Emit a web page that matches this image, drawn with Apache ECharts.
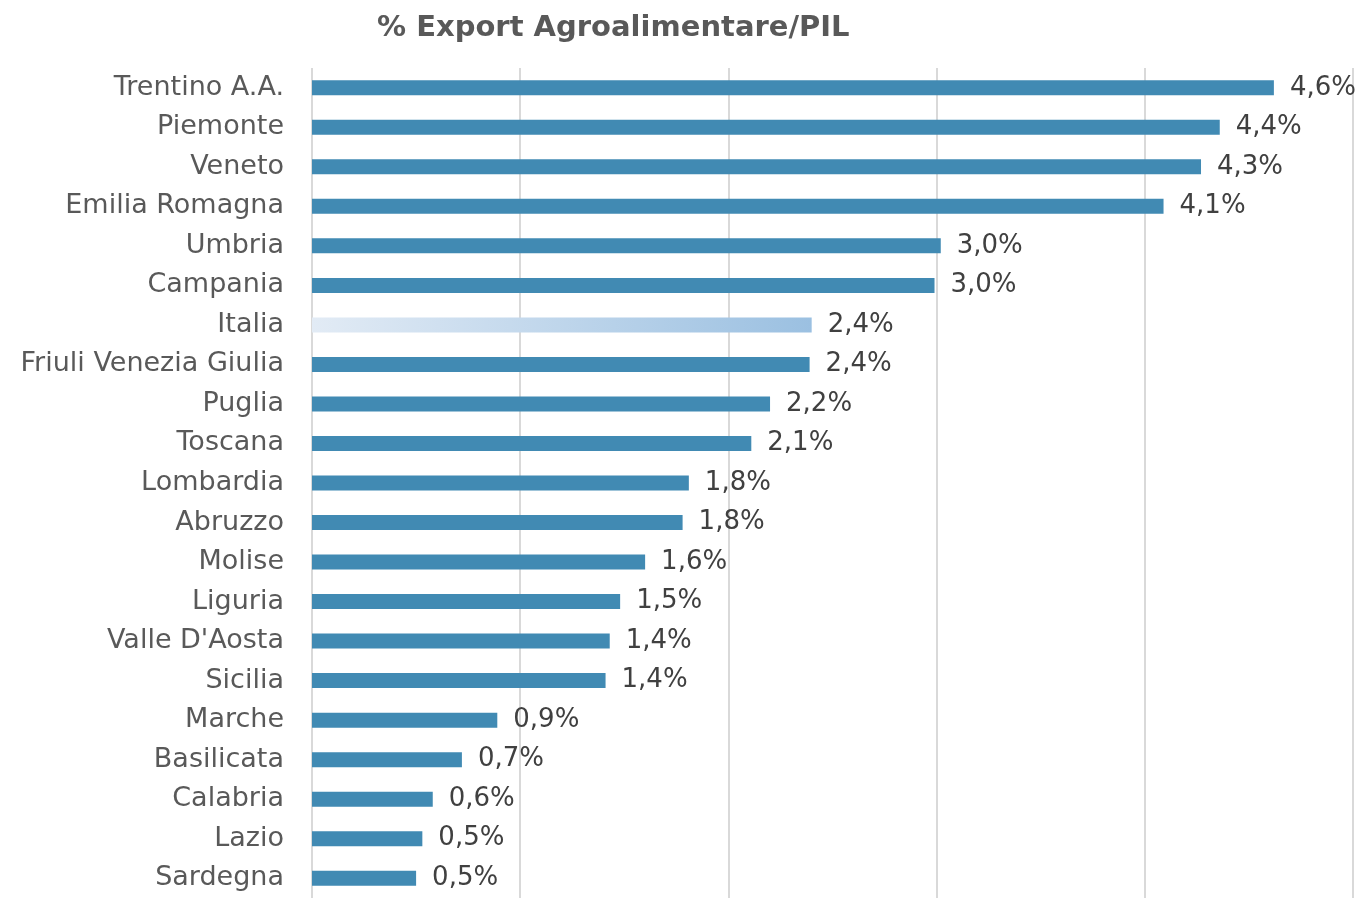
<!DOCTYPE html>
<html>
<head>
<meta charset="utf-8">
<script src="https://cdn.jsdelivr.net/npm/echarts@6/dist/echarts.min.js"></script>
<style>
  html, body { margin: 0; padding: 0; background: #fff; }
  #main { width: 1357px; height: 898px; }
</style>
</head>
<body>
<div id="main"></div>
<script>
// regioni, dall'alto verso il basso
const regioni = ['Trentino A.A.', 'Piemonte', 'Veneto', 'Emilia Romagna', 'Umbria', 'Campania',
  'Italia', 'Friuli Venezia Giulia', 'Puglia', 'Toscana', 'Lombardia', 'Abruzzo', 'Molise',
  'Liguria', "Valle D'Aosta", 'Sicilia', 'Marche', 'Basilicata', 'Calabria', 'Lazio', 'Sardegna'];
// % export agroalimentare su PIL
const valori = [4.62, 4.36, 4.27, 4.09, 3.02, 2.99, 2.40, 2.39, 2.20, 2.11, 1.81, 1.78, 1.60,
  1.48, 1.43, 1.41, 0.89, 0.72, 0.58, 0.53, 0.50];
const asseMax = 5;
const passo = 1;

const fontName = 'DejaVu Sans';

const dati = valori.map((v, i) => {
  if (regioni[i] === 'Italia') {
    return {
      value: v,
      itemStyle: {
        color: new echarts.graphic.LinearGradient(0, 0, 1, 0, [
          { offset: 0, color: '#e2ebf5' },
          { offset: 1, color: '#9bc0e1' }
        ])
      }
    };
  }
  return v;
});

var myChart = echarts.init(document.getElementById('main'));
myChart.setOption({
  animation: false,
  title: {
    text: '% Export Agroalimentare/PIL',
    left: 372,
    top: 9,
    textStyle: { fontFamily: fontName, fontSize: 29, fontWeight: 'bold', color: '#595959' }
  },
  grid: { left: 312, right: 4, top: 68, bottom: -6, containLabel: false },
  xAxis: {
    type: 'value',
    min: 0,
    max: asseMax,
    interval: passo,
    axisLabel: { show: false },
    axisLine: { show: false },
    axisTick: { show: false },
    splitLine: { show: true, lineStyle: { color: '#d9d9d9', width: 2 } }
  },
  yAxis: {
    type: 'category',
    inverse: true,
    data: regioni,
    axisLine: { show: false },
    axisTick: { show: false },
    axisLabel: {
      margin: 28,
      fontFamily: fontName,
      fontSize: 27,
      color: '#595959'
    }
  },
  series: [
    {
      type: 'bar',
      data: dati,
      barWidth: 15,
      itemStyle: { color: '#418ab3' },
      label: {
        show: true,
        position: 'right',
        distance: 16,
        fontFamily: fontName,
        fontSize: 26,
        color: '#404040',
        formatter: p => p.value.toFixed(1).replace('.', ',') + '%'
      }
    }
  ]
});
</script>
</body>
</html>
